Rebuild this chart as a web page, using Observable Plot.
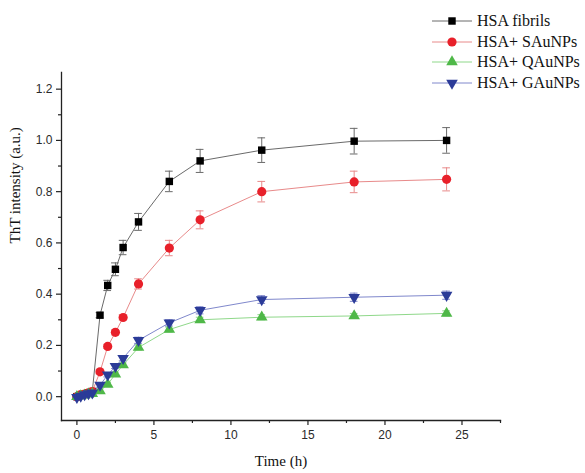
<!DOCTYPE html>
<html>
<head>
<meta charset="utf-8">
<script src="https://cdn.jsdelivr.net/npm/d3@7"></script>
<script src="https://cdn.jsdelivr.net/npm/@observablehq/plot@0.6"></script>
<style>
  body { margin: 0; background: #fff; }
  #wrap { position: relative; width: 585px; height: 473px; }
  #legend { position: absolute; left: 430px; top: 11px; font-family: "Liberation Serif", "Times New Roman", serif; font-size: 16px; color: #111; }
  #legend .row { display: flex; align-items: center; height: 20.5px; }
  #legend svg { margin-right: 3px; }
</style>
</head>
<body>
<div id="wrap"><div id="legend"></div></div>
<script>
// ---- data ----
const time = [0, 0.25, 0.5, 0.75, 1, 1.5, 2, 2.5, 3, 4, 6, 8, 12, 18, 24];
const seriesNames = ["HSA fibrils", "HSA+ SAuNPs", "HSA+ QAuNPs", "HSA+ GAuNPs"];
const fibrils  = [0, 0.005, 0.01, 0.015, 0.02, 0.318, 0.434, 0.497, 0.582, 0.682, 0.840, 0.920, 0.962, 0.997, 1.000];
const fibrilsErr = [0.004, 0.004, 0.004, 0.004, 0.004, 0.01, 0.02, 0.025, 0.028, 0.033, 0.04, 0.045, 0.048, 0.05, 0.05];
const sAuNPs   = [0, 0.008, 0.01, 0.015, 0.02, 0.097, 0.196, 0.251, 0.309, 0.440, 0.580, 0.690, 0.800, 0.838, 0.848];
const sAuNPsErr = [0.004, 0.004, 0.004, 0.004, 0.004, 0.008, 0.008, 0.01, 0.01, 0.02, 0.03, 0.035, 0.04, 0.042, 0.045];
const qAuNPs   = [0, 0.003, 0.006, 0.01, 0.012, 0.022, 0.048, 0.088, 0.124, 0.192, 0.262, 0.300, 0.310, 0.315, 0.325];
const qAuNPsErr = [0.004, 0.004, 0.004, 0.004, 0.004, 0.008, 0.008, 0.008, 0.008, 0.01, 0.01, 0.01, 0.01, 0.01, 0.01];
const gAuNPs   = [-0.003, 0.002, 0.008, 0.012, 0.015, 0.045, 0.085, 0.118, 0.150, 0.220, 0.288, 0.337, 0.379, 0.388, 0.396];
const gAuNPsErr = [0.004, 0.004, 0.004, 0.004, 0.004, 0.008, 0.008, 0.008, 0.01, 0.012, 0.012, 0.014, 0.015, 0.016, 0.016];
const xTicks = [0, 5, 10, 15, 20, 25];
const xMinor = [2.5, 7.5, 12.5, 17.5, 22.5, 27.5];
const yTicks = [0, 0.2, 0.4, 0.6, 0.8, 1.0, 1.2];
const yMinor = [0.1, 0.3, 0.5, 0.7, 0.9, 1.1];

const triangleDown = {
  draw(ctx, size) {
    const s = Math.sqrt(size * 4 / Math.sqrt(3));
    const r = s / Math.sqrt(3);
    ctx.moveTo(0, r);
    ctx.lineTo(s / 2, -r / 2);
    ctx.lineTo(-s / 2, -r / 2);
    ctx.closePath();
  }
};

const styles = [
  {vals: fibrils, err: fibrilsErr, fill: "#000000", line: "#6a6a6a", symbol: "square", r: 4.2},
  {vals: sAuNPs, err: sAuNPsErr, fill: "#e8202a", line: "#e88a8a", symbol: "circle", r: 4.6},
  {vals: qAuNPs, err: qAuNPsErr, fill: "#4fb848", line: "#8fd88a", symbol: "triangle", r: 4.3},
  {vals: gAuNPs, err: gAuNPsErr, fill: "#2b3b98", line: "#8088cc", symbol: triangleDown, r: 4.3}
];

const marks = [];
styles.forEach((s, i) => {
  const data = time.map((t, j) => ({t, v: s.vals[j], e: s.err[j]}));
  marks.push(Plot.line(data, {x: "t", y: "v", stroke: s.line, strokeWidth: 1}));
  marks.push(Plot.ruleX(data, {x: "t", y1: d => d.v - d.e, y2: d => d.v + d.e, stroke: s.line, strokeWidth: 1}));
  marks.push(Plot.ruleY(data, {y: d => d.v + d.e, x1: d => d.t - 0.25, x2: d => d.t + 0.25, stroke: s.line, strokeWidth: 1}));
  marks.push(Plot.ruleY(data, {y: d => d.v - d.e, x1: d => d.t - 0.25, x2: d => d.t + 0.25, stroke: s.line, strokeWidth: 1}));
});
styles.forEach((s, i) => {
  const data = time.map((t, j) => ({t, v: s.vals[j]}));
  marks.push(Plot.dot(data, {x: "t", y: "v", symbol: () => s.symbol, fill: s.fill, stroke: "none", r: s.r}));
});

const chart = Plot.plot({
  width: 585,
  height: 473,
  marginLeft: 61,
  marginRight: 85,
  marginTop: 72,
  marginBottom: 53,
  style: {fontFamily: "'Liberation Sans', Arial, sans-serif", fontSize: "12px", color: "#2a2a2a", background: "#fff"},
  x: {domain: [-1, 27.5]},
  y: {domain: [-0.093, 1.265]},
  symbol: {type: "identity"},
  marks: [
    Plot.frame({anchor: "bottom", stroke: "#222", strokeWidth: 1.3}),
    Plot.frame({anchor: "left", stroke: "#222", strokeWidth: 1.3}),
    Plot.axisX({ticks: xTicks, tickSize: 5, tickPadding: 5, tickFormat: d3.format("d"), label: null, stroke: "#222", strokeWidth: 1.2}),
    Plot.axisX({ticks: xMinor, tickSize: 3, tickFormat: () => "", label: null, stroke: "#222", strokeWidth: 1.2}),
    Plot.axisY({ticks: yTicks, tickSize: 5, tickPadding: 4, tickFormat: d3.format(".1f"), label: null, stroke: "#222", strokeWidth: 1.2}),
    Plot.axisY({ticks: yMinor, tickSize: 3, tickFormat: () => "", label: null, stroke: "#222", strokeWidth: 1.2}),
    Plot.text(["Time (h)"], {frameAnchor: "bottom", dy: 45, fontFamily: "'Liberation Serif', 'Times New Roman', serif", fontSize: 15, fill: "#111"}),
    Plot.text(["ThT intensity (a.u.)"], {frameAnchor: "left", rotate: -90, dx: -46, dy: -3, fontFamily: "'Liberation Serif', 'Times New Roman', serif", fontSize: 15, fill: "#111"}),
    ...marks
  ]
});
document.getElementById("wrap").prepend(chart);
chart.style.position = "absolute";
chart.style.left = "0";
chart.style.top = "0";

// legend
const legend = document.getElementById("legend");
styles.forEach((s, i) => {
  const row = document.createElement("div");
  row.className = "row";
  const svg = d3.create("svg").attr("width", 44).attr("height", 14);
  svg.append("line").attr("x1", 2).attr("x2", 42).attr("y1", 7).attr("y2", 7).attr("stroke", s.line).attr("stroke-width", 1);
  const sym = typeof s.symbol === "string" ? ({square: d3.symbolSquare, circle: d3.symbolCircle, triangle: d3.symbolTriangle})[s.symbol] : s.symbol;
  svg.append("path").attr("transform", "translate(22,7)").attr("d", d3.symbol(sym, s.r * s.r * Math.PI)()).attr("fill", s.fill);
  row.appendChild(svg.node());
  const span = document.createElement("span");
  span.textContent = seriesNames[i];
  row.appendChild(span);
  legend.appendChild(row);
});
</script>
</body>
</html>
